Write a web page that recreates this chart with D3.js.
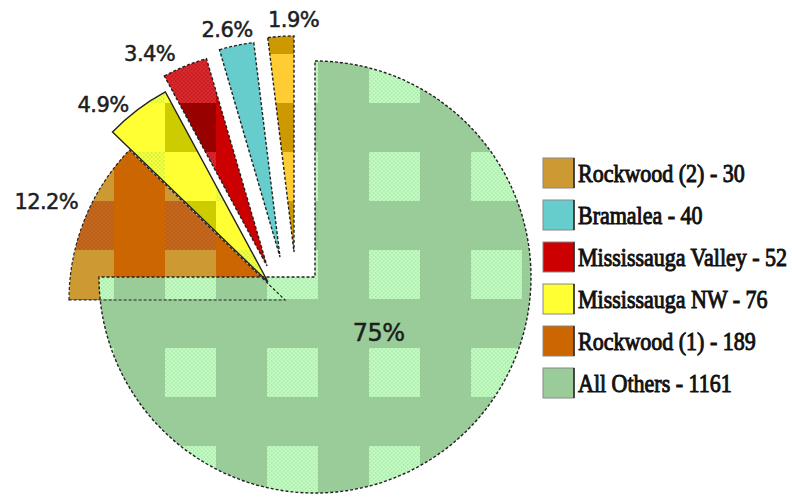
<!DOCTYPE html>
<html>
<head>
<meta charset="utf-8">
<script src="https://cdn.jsdelivr.net/npm/d3@7"></script>
<style>
  html, body { margin: 0; padding: 0; background: #fff; }
  svg { display: block; }
</style>
</head>
<body>
<svg id="chart" width="792" height="498"></svg>
<script>
// data, in legend order
const categories = ['Rockwood (2)', 'Bramalea', 'Mississauga Valley', 'Mississauga NW', 'Rockwood (1)', 'All Others'];
const counts = [30, 40, 52, 76, 189, 1161];

const svg = d3.select('#chart');
const width = 792, height = 498;

// pie centre and radius (the big slice sits here, the rest are pulled out)
const cx = 315, cy = 277;
const radius = 216;

// how far each slice was pulled off the centre, in px
const explode = {
	'All Others': [0, 0],
	'Rockwood (1)': [-30, 23],
	'Mississauga NW': [-47, 5],
	'Mississauga Valley': [-48, -11],
	'Bramalea': [-35, -20],
	'Rockwood (2)': [-21, -25]
};
// small nudges so the % labels sit where the original put them
const labelNudge = {
	'All Others': [4, -4],
	'Rockwood (1)': [-18, -9],
	'Mississauga NW': [-21, 12],
	'Mississauga Valley': [-27, 8],
	'Bramalea': [-5, 6],
	'Rockwood (2)': [14, 5]
};

// tiled look of the old gif: 2x2 block grid, some blocks dithered
const legendColor = {
	'Rockwood (2)': '#cc9933',
	'Bramalea': '#66cccc',
	'Mississauga Valley': '#cc0000',
	'Mississauga NW': '#ffff33',
	'Rockwood (1)': '#cc6600',
	'All Others': '#99cc99'
};
const tiles = {
	'All Others': { aa: ['#c4f8c4', '#a0eea0'], ba: '#99cc99', ab: '#99cc99', bb: '#99cc99' },
	'Rockwood (1)': { aa: '#cc9933', ba: '#cc6600', ab: ['#c8661a', '#a85e22'], bb: '#cc6600' },
	'Mississauga NW': { aa: '#ffff33', ba: ['#f4ff40', '#ccee33'], ab: '#cccc00', bb: '#ffff33' },
	'Mississauga Valley': { aa: ['#d82a2a', '#c01525'], ba: '#cc0000', ab: '#990000', bb: '#cc0000' },
	'Bramalea': { aa: '#66cccc', ba: '#66cccc', ab: '#66cccc', bb: '#66cccc' },
	'Rockwood (2)': { aa: '#ffcc33', ba: '#ffcc33', ab: '#cc9900', bb: '#cc9900' }
};
const tileW = 51, tileH = 49, tileX = 63, tileY = 54;

const defs = svg.append('defs');
let dotId = 0;
function cellFill(c) {
	if (typeof c === 'string') return c;
	const id = 'dot' + (dotId++);
	const p = defs.append('pattern')
		.attr('id', id)
		.attr('patternUnits', 'userSpaceOnUse')
		.attr('width', 4).attr('height', 4);
	p.append('rect').attr('width', 4).attr('height', 4).attr('fill', c[0]);
	p.append('rect').attr('width', 1.5).attr('height', 1.5).attr('fill', c[1]);
	p.append('rect').attr('x', 2).attr('y', 2).attr('width', 1.5).attr('height', 1.5).attr('fill', c[1]);
	return `url(#${id})`;
}
const patternId = {};
categories.forEach((name, i) => {
	const t = tiles[name];
	const id = 'tile' + i;
	patternId[name] = id;
	const p = defs.append('pattern')
		.attr('id', id)
		.attr('patternUnits', 'userSpaceOnUse')
		.attr('width', tileW * 2).attr('height', tileH * 2);
	[['aa', 0, 0], ['ba', 1, 0], ['ab', 0, 1], ['bb', 1, 1]].forEach(([k, col, row]) => {
		p.append('rect')
			.attr('x', col * tileW).attr('y', row * tileH)
			.attr('width', tileW).attr('height', tileH)
			.attr('fill', cellFill(t[k]));
	});
});

// pie goes clockwise from 12 o'clock, starting with the big slice
const rows = categories.map((name, i) => ({ name, count: counts[i] }));
const total = d3.sum(counts);
const pie = d3.pie().sort(null).value(d => d.count);
const arcs = pie(rows.slice().reverse());
const arc = d3.arc().innerRadius(0).outerRadius(radius);

const pct = v => d3.format('.1%')(v).replace('.0%', '%');

const apex = d => {
	const o = explode[d.data.name];
	return [cx + o[0], cy + o[1]];
};

// drawing order: orange slice sits under the big one
const drawOrder = ['Rockwood (1)', 'All Others', 'Mississauga NW', 'Mississauga Valley', 'Bramalea', 'Rockwood (2)'];
const ordered = drawOrder.map(n => arcs.find(a => a.data.name === n));

// userSpaceOnUse patterns follow the transform, so shift them back to the page grid
ordered.forEach(d => {
	const [ax, ay] = apex(d);
	defs.select('#' + patternId[d.data.name])
		.attr('x', tileX - ax).attr('y', tileY - ay);
});

svg.append('g')
	.selectAll('path')
	.data(ordered)
	.join('path')
	.attr('d', arc)
	.attr('transform', d => `translate(${apex(d)})`)
	.attr('fill', d => `url(#${patternId[d.data.name]})`);

svg.append('g')
	.selectAll('path')
	.data(ordered)
	.join('path')
	.attr('d', arc)
	.attr('transform', d => `translate(${apex(d)})`)
	.attr('fill', 'none')
	.attr('stroke', '#222')
	.attr('stroke-width', d => d.data.name === 'Rockwood (1)' ? 1.2 : 1.4)
	.attr('stroke-dasharray', d => d.data.name === 'Mississauga NW' ? null : '3,2');

// percentage labels
svg.append('g')
	.selectAll('text')
	.data(arcs)
	.join('text')
	.attr('transform', d => {
		const [ax, ay] = apex(d);
		const a = (d.startAngle + d.endAngle) / 2;
		const big = d.data.name === 'All Others';
		const t = big ? radius * 0.39 : radius + 22;
		const n = labelNudge[d.data.name];
		return `translate(${ax + Math.sin(a) * t + n[0]},${ay - Math.cos(a) * t + n[1]})`;
	})
	.attr('text-anchor', 'middle')
	.attr('dy', '0.36em')
	.style('font-family', '"DejaVu Sans", sans-serif')
	.style('font-size', d => d.data.name === 'All Others' ? '24px' : '21px')
	.style('letter-spacing', '-0.6px')
	.attr('fill', '#1e1e1e')
	.attr('stroke', '#1e1e1e')
	.attr('stroke-width', 0.5)
	.text(d => pct(d.data.count / total));

// legend
const legX = 543, legY = 158, legStep = 42;
const legend = svg.append('g')
	.selectAll('g')
	.data(rows)
	.join('g')
	.attr('transform', (d, i) => `translate(${legX},${legY + i * legStep})`);

legend.append('rect')
	.attr('width', 31).attr('height', 30)
	.attr('fill', d => legendColor[d.name])
	.attr('stroke', '#888')
	.attr('stroke-width', 1);
legend.append('path')
	.attr('d', 'M31,0V30')
	.attr('stroke', '#222')
	.attr('stroke-width', 1.5);

legend.append('text')
	.attr('transform', 'translate(35,24) scale(1,1.14)')
	.style('font-family', '"Liberation Serif", "Times New Roman", serif')
	.style('font-size', '22px')
	.attr('fill', '#111')
	.attr('stroke', '#111')
	.attr('stroke-width', 0.85)
	.text(d => `${d.name} - ${d.count}`);
</script>
</body>
</html>
